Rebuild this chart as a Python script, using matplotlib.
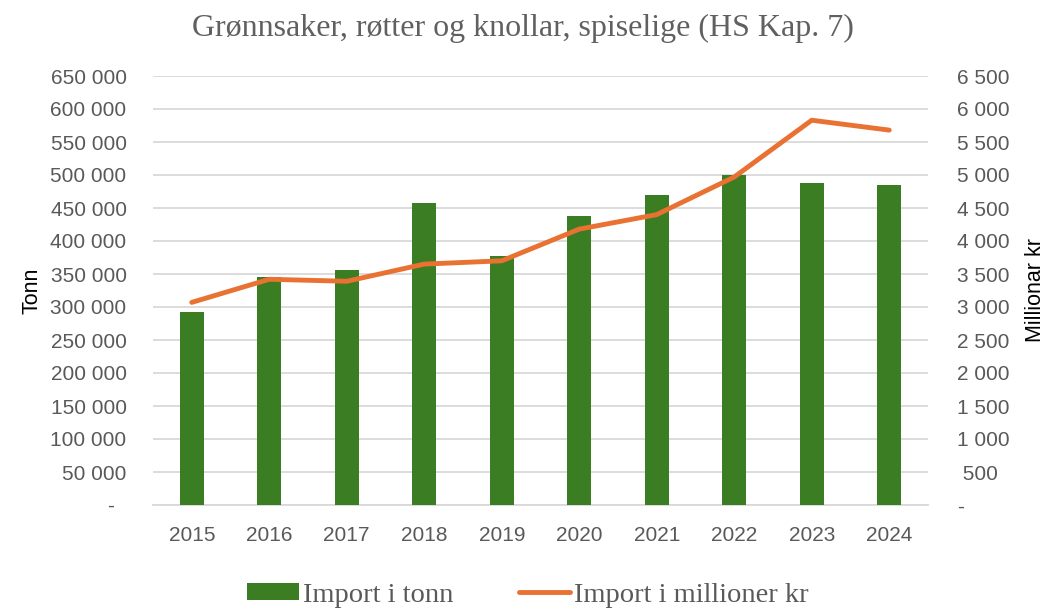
import numpy as np
import matplotlib
matplotlib.use("Agg")
import matplotlib.pyplot as plt
from matplotlib.ticker import FuncFormatter

years = ["2015", "2016", "2017", "2018", "2019", "2020", "2021", "2022", "2023", "2024"]
tonn = [292000, 345000, 356000, 458000, 377000, 438000, 469000, 500000, 488000, 485000]
mill_kr = [3070, 3420, 3390, 3650, 3700, 4180, 4400, 4970, 5830, 5680]

green = "#3B7D23"
orange = "#E97132"
grey = "#595959"

def left_fmt(v, pos):
    if v == 0:
        return "-  "
    return f"{int(round(v)):,}".replace(",", " ")

def right_fmt(v, pos):
    if v == 0:
        return "-"
    s = f"{int(round(v)):,}".replace(",", " ")
    if v < 1000:
        s = " " + s
    return s

fig = plt.figure(figsize=(10.46, 6.1), dpi=100)
ax = fig.add_axes([153/1046, 1 - 505/610, (928-153)/1046, (505-76)/610])
ax2 = ax.twinx()

x = np.arange(len(years))
ax.bar(x, tonn, width=0.31, color=green, zorder=3, label="Import i tonn")
ax2.plot(x, mill_kr, color=orange, lw=3.5, solid_capstyle="round", zorder=4,
         label="Import i millioner kr")

ax.set_xlim(-0.5, len(years) - 0.5)
ax.set_ylim(0, 650000)
ax2.set_ylim(0, 6500)
ax.set_yticks(np.arange(0, 650001, 50000))
ax2.set_yticks(np.arange(0, 6501, 500))
ax.yaxis.set_major_formatter(FuncFormatter(left_fmt))
ax2.yaxis.set_major_formatter(FuncFormatter(right_fmt))
ax.set_xticks(x)
ax.set_xticklabels(years)

ax.grid(axis="y", color="#D9D9D9", lw=1.3, zorder=0)
ax.set_axisbelow(True)
for a in (ax, ax2):
    for s in a.spines.values():
        s.set_visible(False)
    a.tick_params(length=0, labelsize=15, colors=grey)
    for lab in a.get_xticklabels() + a.get_yticklabels():
        lab.set_family("Liberation Sans")
ax.spines["bottom"].set_visible(True)
ax.spines["bottom"].set_color("#D9D9D9")
ax.spines["bottom"].set_linewidth(1.3)
ax.tick_params(axis="y", pad=19)
ax.tick_params(axis="x", pad=15)
for lab in ax2.get_yticklabels():
    lab.set_horizontalalignment("left")
ax2.tick_params(axis="y", pad=21)

ax.set_ylabel("Tonn", fontsize=15.5, family="Liberation Sans", labelpad=6)
ax2.set_ylabel("Millionar kr", fontsize=15.5, family="Liberation Sans", labelpad=11)

fig.text(0.5, 1 - 28/610, "Grønnsaker, røtter og knollar, spiselige (HS Kap. 7)",
         ha="center", va="center", fontsize=23, family="Liberation Serif", color="#606060")

h1, l1 = ax.get_legend_handles_labels()
h2, l2 = ax2.get_legend_handles_labels()
fig.legend(h1 + h2, l1 + l2, loc="center", bbox_to_anchor=(0.505, 1 - 595/610),
           ncol=2, frameon=False, prop={"family": "Liberation Serif", "size": 20.5},
           labelcolor=grey, handlelength=1.8, handleheight=0.5,
           handletextpad=0.15, columnspacing=2.3, borderpad=0)

fig.savefig("out.png", dpi=100)
